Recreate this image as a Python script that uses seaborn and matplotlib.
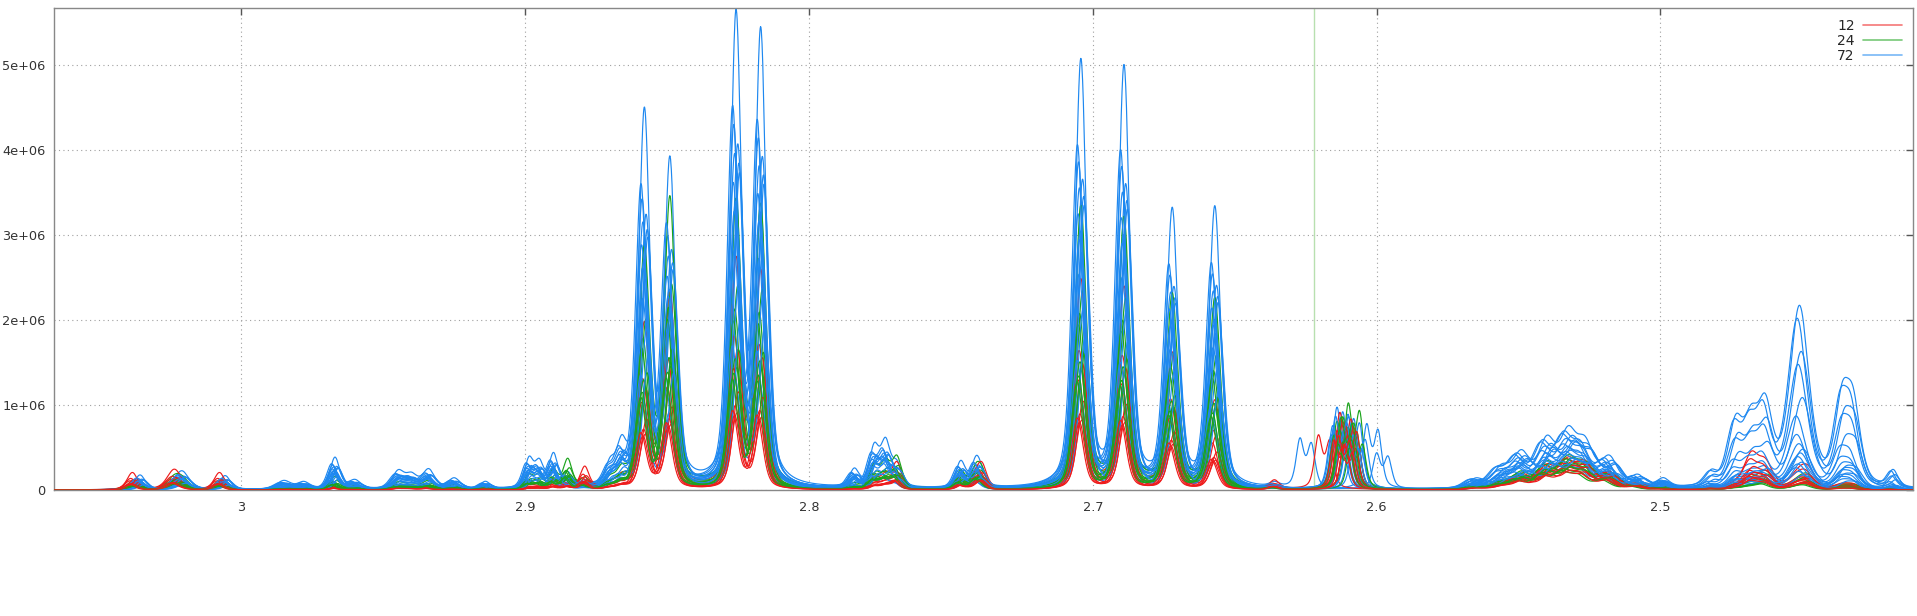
import numpy as np
import pandas as pd
import matplotlib
matplotlib.use('Agg')
import matplotlib.pyplot as plt
from matplotlib.lines import Line2D
from matplotlib.ticker import FuncFormatter
import seaborn as sns

# window shown (ppm, reversed axis) and top of the y axis
ppm_left, ppm_right = 3.066, 2.411
y_top = 5.67e6
cursor_ppm = 2.622

groups = ['12', '24', '72']
palette = {'12': '#ee1c1c', '24': '#1ca41c', '72': '#1e88f0'}
layer_offset = {'12': 0.35, '24': 0.25, '72': 0.0}

# peak list: centre (ppm), half width (ppm),
# tallest trace of each group (in 1e6)
peak_ppm = [3.0384, 3.0357, 3.0236, 3.0210, 3.0077, 3.0057, 2.9850, 2.9780,
            2.9670, 2.9600, 2.9447, 2.9400, 2.9340, 2.9250, 2.9140, 2.8986,
            2.8950, 2.8900, 2.8850, 2.8790, 2.8700, 2.8660, 2.8580, 2.8490,
            2.8257, 2.8170, 2.7840, 2.7770, 2.7730, 2.7690, 2.7465, 2.7410,
            2.7390, 2.7042, 2.6890, 2.6720, 2.6570, 2.6360, 2.4990]
peak_hw = [0.0022, 0.0022, 0.0030, 0.0030, 0.0022, 0.0022, 0.0030, 0.0025,
           0.0020, 0.0025, 0.0025, 0.0025, 0.0025, 0.0025, 0.0020, 0.0018,
           0.0018, 0.0018, 0.0018, 0.0018, 0.0020, 0.0020, 0.0023, 0.0023,
           0.0023, 0.0023, 0.0020, 0.0020, 0.0020, 0.0020, 0.0020, 0.0020,
           0.0020, 0.0024, 0.0024, 0.0024, 0.0024, 0.0020, 0.0025]
peak_12 = [0.20, 0.00, 0.24, 0.00, 0.20, 0.00, 0.02, 0.02,
           0.06, 0.02, 0.05, 0.04, 0.05, 0.03, 0.03, 0.05,
           0.05, 0.10, 0.10, 0.25, 0.05, 0.10, 1.90, 2.25,
           2.65, 2.50, 0.02, 0.12, 0.15, 0.30, 0.15, 0.12,
           0.25, 2.45, 2.35, 1.58, 1.03, 0.10, 0.02]
peak_24 = [0.08, 0.06, 0.12, 0.10, 0.08, 0.06, 0.03, 0.03,
           0.15, 0.04, 0.08, 0.06, 0.10, 0.05, 0.04, 0.15,
           0.15, 0.20, 0.33, 0.10, 0.08, 0.15, 2.75, 3.35,
           3.30, 3.25, 0.05, 0.25, 0.28, 0.35, 0.20, 0.22,
           0.15, 3.30, 3.15, 2.25, 2.22, 0.04, 0.03]
peak_72 = [0.00, 0.17, 0.00, 0.22, 0.00, 0.16, 0.10, 0.08,
           0.37, 0.10, 0.20, 0.15, 0.22, 0.12, 0.08, 0.33,
           0.28, 0.38, 0.15, 0.05, 0.22, 0.40, 4.35, 3.75,
           5.45, 5.25, 0.20, 0.45, 0.50, 0.25, 0.30, 0.32,
           0.08, 5.00, 4.90, 3.22, 3.28, 0.05, 0.10]

# broad hump 2.50-2.57 ppm
hump_ppm = [2.5650, 2.5560, 2.5490, 2.5400, 2.5325, 2.5265, 2.5180, 2.5080]
hump_hw = [0.0030, 0.0035, 0.0035, 0.0035, 0.0035, 0.0035, 0.0035, 0.0030]
hump_12 = [0.03, 0.06, 0.16, 0.25, 0.30, 0.26, 0.18, 0.06]
hump_24 = [0.04, 0.08, 0.18, 0.28, 0.32, 0.26, 0.18, 0.06]
hump_72 = [0.10, 0.22, 0.38, 0.52, 0.58, 0.46, 0.33, 0.13]

# 2.43-2.48 ppm multiplet, which varies on its own between traces
multi_ppm = [2.4820, 2.4735, 2.4680, 2.4630, 2.4510, 2.4480, 2.4360, 2.4320, 2.4180]
multi_hw = [0.0025, 0.0030, 0.0030, 0.0030, 0.0040, 0.0030, 0.0030, 0.0030, 0.0020]
multi_12 = [0.03, 0.05, 0.38, 0.28, 0.18, 0.16, 0.05, 0.05, 0.02]
multi_24 = [0.03, 0.05, 0.10, 0.20, 0.10, 0.12, 0.05, 0.05, 0.02]
multi_72 = [0.15, 0.70, 0.65, 0.85, 2.10, 0.00, 0.90, 0.85, 0.19]

# drifting doublet near 2.61 ppm: offset and height for each trace
mob_ppm = [2.612, 2.608]
mob_hw = 0.0016
shift_12 = [0.0085, 0.001, 0.0, -0.001, 0.002, 0.003, -0.0005, 0.0015, 0.0005]
shift_24 = [-0.002, 0.0, 0.002, -0.001, 0.001, 0.003, -0.003, 0.0005, 0.0015]
shift_72 = [0.015, -0.0085, -0.012, 0.002, 0.0, -0.002, 0.001, 0.003, -0.001,
            0.004, 0.0005, -0.0025, 0.0025, -0.004, 0.0035, -0.0015]
mob_12 = [0.60, 0.85, 0.75, 0.70, 0.65, 0.55, 0.50, 0.60, 0.45]
mob_24 = [0.95, 0.80, 0.75, 0.70, 0.65, 0.60, 0.55, 0.80, 0.50]
mob_72 = [0.55, 0.72, 0.40, 0.90, 0.85, 0.80, 0.75, 0.70, 0.65, 0.60, 0.55, 0.50,
          0.80, 0.60, 0.70, 0.50]

# small position drift of each trace for the other peaks (ppm)
drift_12 = [0.0, 0.0006, -0.0005, 0.0009, -0.0008, 0.0003, 0.0012, -0.0003, 0.0005]
drift_24 = [0.0, -0.0006, 0.0005, 0.0009, -0.0009, 0.0003, -0.0003, 0.0008, 0.0013]
drift_72 = [0.0, 0.0008, -0.0006, 0.0005, -0.0010, 0.0010, 0.0002, -0.0003, 0.0006,
            -0.0008, 0.0013, 0.0003, 0.0012, -0.0012, 0.0006, -0.0014]

# relative size of each trace in its group
scale_12 = [1.0, 0.66, 0.60, 0.52, 0.42, 0.36, 0.34, 0.33, 0.32]
scale_24 = [1.0, 0.70, 0.62, 0.58, 0.48, 0.45, 0.42, 0.40, 0.38]
scale_72 = [1.0, 0.76, 0.72, 0.70, 0.68, 0.64, 0.60, 0.55, 0.50, 0.42, 0.30, 0.23,
            0.80, 0.66, 0.58, 0.35]
hump_s_12 = [1.0, 0.95, 0.85, 0.80, 0.75, 0.70, 0.65, 0.60, 0.55]
hump_s_24 = [1.0, 0.92, 0.88, 0.80, 0.75, 0.70, 0.65, 0.60, 0.55]
hump_s_72 = [1.0, 0.92, 0.85, 0.80, 0.78, 0.72, 0.68, 0.62, 0.55, 0.50, 0.45, 0.40,
             0.88, 0.75, 0.60, 0.48]
alt_12 = [1.0, 0.8, 0.6, 0.5, 0.45, 0.4, 0.35, 0.3, 0.25]
alt_24 = [1.0, 0.8, 0.7, 0.6, 0.5, 0.45, 0.4, 0.35, 0.3]
alt_72 = [1.0, 0.93, 0.75, 0.68, 0.50, 0.30, 0.25, 0.20, 0.18, 0.15, 0.12, 0.10,
          0.40, 0.22, 0.14, 0.08]


x = np.linspace(ppm_right, ppm_left, 5000)


def line_shape(c, hw, eta=0.5):
    # pseudo-Voigt line, height 1 at c
    d2 = (x - c) ** 2
    return eta * hw ** 2 / (d2 + hw ** 2) + (1 - eta) * np.exp(-np.log(2) * d2 / hw ** 2)


def add_peaks(y, ppms, hws, heights, s, dx=0.0):
    for c, w, h in zip(ppms, hws, heights):
        y += s * h * line_shape(c + dx, w)


frames = []
draw_rank = []   # stacking order of each trace
per_group = zip(groups,
                [peak_12, peak_24, peak_72], [hump_12, hump_24, hump_72],
                [multi_12, multi_24, multi_72],
                [scale_12, scale_24, scale_72], [hump_s_12, hump_s_24, hump_s_72],
                [alt_12, alt_24, alt_72], [drift_12, drift_24, drift_72],
                [shift_12, shift_24, shift_72], [mob_12, mob_24, mob_72])
for g, pk, hk, mk, sc, hs, al, dr, sh, mh in per_group:
    for i in range(len(sc)):
        y = np.zeros_like(x)
        add_peaks(y, peak_ppm, peak_hw, pk, sc[i], dr[i])
        add_peaks(y, hump_ppm, hump_hw, hk, hs[i], 2 * dr[i])
        add_peaks(y, multi_ppm, multi_hw, mk, al[i], dr[i])
        y += mh[i] * (line_shape(mob_ppm[0] + sh[i], mob_hw)
                      + 0.9 * line_shape(mob_ppm[1] + sh[i], mob_hw))
        frames.append(pd.DataFrame({'ppm': x, 'intensity': y * 1e6,
                                    'group': g, 'trace': f'{g}-{i:02d}'}))
        draw_rank.append(i / len(sc) + layer_offset[g])
df = pd.concat(frames, ignore_index=True)

# plot
sns.set_style('white')
plt.rcParams['font.family'] = ['DejaVu Sans']

fig = plt.figure(figsize=(19.17, 6.16), dpi=100)
ax = fig.add_axes([54 / 1917, 126 / 616, (1913 - 54) / 1917, (490 - 8) / 616])

sns.lineplot(data=df, x='ppm', y='intensity', hue='group', units='trace',
             estimator=None, sort=False, palette=palette, hue_order=groups,
             lw=0.85, legend=False, ax=ax)

# interleave the groups so red/green tips show through the blue band
for line, r in zip(ax.get_lines(), draw_rank):
    line.set_zorder(2 + r)

ax.axvline(cursor_ppm, color='#b8e0b0', lw=1.0, zorder=1)

ax.set_xlim(ppm_left, ppm_right)
ax.set_ylim(0, y_top)
ax.set_xticks([3.0, 2.9, 2.8, 2.7, 2.6, 2.5])
ax.set_yticks([0, 1e6, 2e6, 3e6, 4e6, 5e6])
ax.xaxis.set_major_formatter(FuncFormatter(lambda v, p: '%g' % round(v, 2)))
ax.yaxis.set_major_formatter(FuncFormatter(lambda v, p: '%g' % v))
ax.set_xlabel('')
ax.set_ylabel('')
ax.grid(True, color='#a0a0a0', lw=0.8, ls=(0, (1, 3)))
ax.tick_params(direction='in', top=True, right=True, length=5, width=1,
               color='#555555', labelsize=9.3, labelcolor='#333333')
ax.tick_params(axis='y', pad=6)
ax.tick_params(axis='x', pad=8)
for s in ax.spines.values():
    s.set_color('#888888')
    s.set_linewidth(1.0)

handles = [Line2D([], [], color=palette[g], lw=1.2, alpha=0.6) for g in groups]
ax.legend(handles, groups, loc='upper right', frameon=False, markerfirst=False,
          fontsize=10, handlelength=2.8, labelspacing=0.05, handletextpad=0.6,
          borderaxespad=0.4)

fig.savefig('out.png', dpi=100)
